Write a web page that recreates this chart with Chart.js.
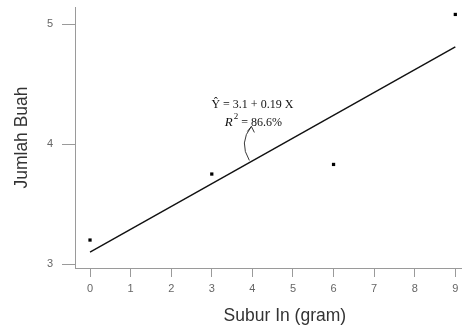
<!DOCTYPE html>
<html>
<head>
<meta charset="utf-8">
<script src="https://cdn.jsdelivr.net/npm/chart.js@4.4.1/dist/chart.umd.min.js"></script>
<style>
  html, body { margin: 0; padding: 0; background: #fff; }
  #wrap { width: 465px; height: 330px; }
</style>
</head>
<body>
<div id="wrap"><canvas id="chart" width="465" height="330"></canvas></div>
<script>
// Data
const doseX = [0, 3, 6, 9];
const fruitY = [3.2, 3.75, 3.83, 5.08];
const fitX = [0, 9];
const fitY = [3.1, 4.81];
const xTicks = [0, 1, 2, 3, 4, 5, 6, 7, 8, 9];
const yTicks = [3, 4, 5];
const xTitle = 'Subur In (gram)';
const yTitle = 'Jumlah Buah';

const axisGray = '#9a9a9a';

// Regression equation drawn next to the line
const equationLabel = {
    id: 'equationLabel',
    afterDatasetsDraw(chart) {
        const ctx = chart.ctx;
        const xs = chart.scales.x, ys = chart.scales.y;
        const cx = xs.getPixelForValue(4.0);
        const cy = ys.getPixelForValue(4.33);
        ctx.save();
        ctx.fillStyle = '#111';
        ctx.strokeStyle = '#222';
        ctx.textBaseline = 'middle';
        ctx.textAlign = 'center';
        ctx.font = '12px "Liberation Serif", "DejaVu Serif", serif';
        ctx.fillText('\u0176 = 3.1 + 0.19 X', cx, cy);

        // R^2 = 86.6%
        const y2 = cy + 18;
        const italic = 'italic 13px "Liberation Serif", "DejaVu Serif", serif';
        const plain = '12px "Liberation Serif", "DejaVu Serif", serif';
        const sup = '9px "Liberation Serif", "DejaVu Serif", serif';
        ctx.font = italic; const wR = ctx.measureText('R').width;
        ctx.font = sup; const w2 = ctx.measureText('2').width;
        ctx.font = plain; const wRest = ctx.measureText(' = 86.6%').width;
        let x0 = cx - (wR + w2 + 1 + wRest) / 2 + 1;
        ctx.textAlign = 'left';
        ctx.font = italic; ctx.fillText('R', x0, y2);
        x0 += wR + 1;
        ctx.font = sup; ctx.fillText('2', x0, y2 - 6);
        x0 += w2;
        ctx.font = plain; ctx.fillText(' = 86.6%', x0, y2);

        // curved arrow from the line up to the text
        const tx = cx - 3, ty = cy + 56;
        const hx = cx - 1, hy = cy + 22;
        ctx.lineWidth = 0.9;
        ctx.beginPath();
        ctx.moveTo(tx, ty);
        ctx.quadraticCurveTo(cx - 14, cy + 38, hx, hy);
        ctx.stroke();
        ctx.beginPath();
        ctx.moveTo(hx - 4, hy + 5);
        ctx.lineTo(hx, hy);
        ctx.lineTo(hx + 3, hy + 6);
        ctx.stroke();
        ctx.restore();
    }
};

// x-axis title sits a little right of the plot centre in the original
const xAxisTitle = {
    id: 'xAxisTitle',
    afterDraw(chart) {
        const ctx = chart.ctx;
        const xs = chart.scales.x;
        ctx.save();
        ctx.fillStyle = '#333';
        ctx.font = '17.5px "Liberation Sans", Arial, sans-serif';
        ctx.textAlign = 'center';
        ctx.textBaseline = 'middle';
        ctx.fillText(xTitle, xs.getPixelForValue(4.8), xs.bottom - 14);
        ctx.restore();
    }
};

new Chart(document.getElementById('chart'), {
    type: 'scatter',
    data: {
        datasets: [{
            label: 'Regresi',
            type: 'line',
            data: fitX.map((x, i) => ({ x: x, y: fitY[i] })),
            borderColor: '#111',
            borderWidth: 1.4,
            pointRadius: 0,
            fill: false,
            order: 2
        }, {
            label: 'Data',
            data: doseX.map((x, i) => ({ x: x, y: fruitY[i] })),
            pointStyle: 'rect',
            pointRadius: 2.3,
            backgroundColor: '#000',
            borderColor: '#000',
            borderWidth: 0,
            order: 1
        }]
    },
    options: {
        responsive: false,
        animation: false,
        layout: { padding: { top: 7, right: 4, left: 0, bottom: 0 } },
        plugins: {
            legend: { display: false },
            tooltip: { enabled: false }
        },
        scales: {
            x: {
                type: 'linear',
                min: -0.37,
                max: 9.14,
                afterBuildTicks: s => { s.ticks = xTicks.map(v => ({ value: v })); },
                afterFit: s => { s.height = 62; s.paddingLeft = 0; s.paddingRight = 0; },
                border: { color: axisGray, width: 1 },
                grid: { drawOnChartArea: false, tickLength: 9, tickColor: axisGray },
                ticks: {
                    color: '#666',
                    padding: 5,
                    font: { family: '"Liberation Sans Narrow", "Liberation Sans", Arial', size: 11 }
                }
            },
            y: {
                type: 'linear',
                min: 2.967,
                max: 5.142,
                afterBuildTicks: s => { s.ticks = yTicks.map(v => ({ value: v })); },
                afterFit: s => { s.width = 75; s.paddingTop = 0; s.paddingBottom = 0; },
                border: { color: axisGray, width: 1 },
                grid: { drawOnChartArea: false, tickLength: 13, tickColor: axisGray },
                ticks: {
                    color: '#666',
                    padding: 9,
                    font: { family: '"Liberation Sans Narrow", "Liberation Sans", Arial', size: 11 }
                },
                title: {
                    display: true,
                    text: yTitle,
                    color: '#333',
                    padding: { top: 12, bottom: 0 },
                    font: { family: '"Liberation Sans", Arial', size: 17.5 }
                }
            }
        }
    },
    plugins: [equationLabel, xAxisTitle]
});
</script>
</body>
</html>
